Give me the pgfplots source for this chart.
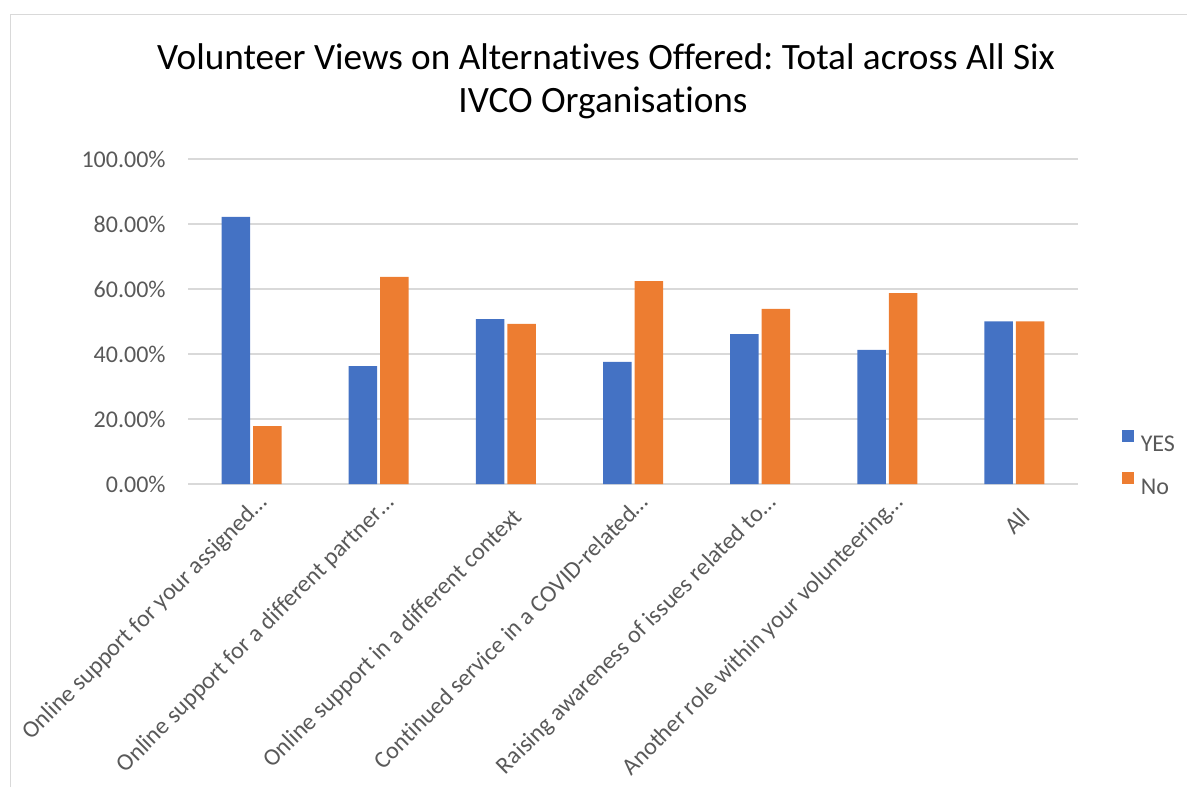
\documentclass[border=0pt]{standalone}
\usepackage{pgfplots}
\pgfplotsset{compat=1.18}
\usepackage{fontspec}
\setmainfont{Carlito}[Ligatures=NoCommon]
\frenchspacing
\definecolor{barblue}{RGB}{68,114,196}
\definecolor{barorange}{RGB}{237,125,49}
\definecolor{gridgray}{RGB}{217,217,217}
\definecolor{textgray}{RGB}{89,89,89}
\begin{document}
\begin{tikzpicture}
\begin{scope}[x=0.5pt,y=0.5pt]
\path[use as bounding box] (0,0) rectangle (1187,787);
\draw[gridgray, line width=0.75pt] (10.5,0) -- (10.5,772.5) -- (1187,772.5);
\node[font=\fontsize{18.6}{22}\selectfont, anchor=base, inner sep=0pt] at (606,717) {Volunteer Views on Alternatives Offered: Total across All Six};
\node[font=\fontsize{18.6}{22}\selectfont, anchor=base, inner sep=0pt] at (603,674) {IVCO Organisations};
\end{scope}
\begin{axis}[
  at={(94pt,151.5pt)}, anchor=south west,
  scale only axis, width=445pt, height=162.5pt,
  xmin=-0.5, xmax=6.5, ymin=0, ymax=100,
  ytick={0,20,40,60,80,100},
  yticklabels={0.00\%,20.00\%,40.00\%,60.00\%,80.00\%,100.00\%},
  xtick={0,1,3,4,5},
  xticklabels={Online support for your assigned…,Online support for a different partner…,Continued service in a COVID-related…,Raising awareness of issues related to…,Another role within your volunteering…},
  extra x ticks={2,6},
  extra x tick labels={Online support in a different context,All},
  extra x tick style={xticklabel style={xshift=-4.84pt, yshift=-5.27pt}},
  axis x line*=bottom, axis y line*=left,
  x axis line style={gridgray, line width=0.75pt, -},
  y axis line style={draw=none},
  major tick length=0pt,
  ymajorgrids, grid style={gridgray, line width=0.75pt},
  yticklabel style={font=\fontsize{12}{14}\selectfont, text=textgray, anchor=east, inner sep=0pt, xshift=-11pt},
  xticklabel style={font=\fontsize{12}{14}\selectfont, text=textgray, anchor=north east, inner sep=0pt, xshift=2.45pt, yshift=-3.85pt, rotate=45},
  ybar=1.5pt, bar width=14.25pt,
  legend style={at={(1.042,0.068)}, anchor=west, draw=none, fill=none,
    font=\fontsize{12}{14}\selectfont, text=textgray,
    nodes={inner sep=0pt, text height=8pt, text depth=0pt},
    row sep=10.5pt},
  legend cell align=left,
  legend image code/.code={\fill[#1] (0pt,0.9pt) rectangle (6pt,6.9pt);},
]
\addplot[fill=barblue, draw=none] coordinates {(0,82.2) (1,36.3) (2,50.7) (3,37.6) (4,46.1) (5,41.3) (6,50.0)};
\addplot[fill=barorange, draw=none] coordinates {(0,17.8) (1,63.7) (2,49.3) (3,62.4) (4,53.9) (5,58.7) (6,50.0)};
\legend{\hspace{3.5pt}YES,\hspace{3.5pt}No}
\end{axis}
\end{tikzpicture}
\end{document}
